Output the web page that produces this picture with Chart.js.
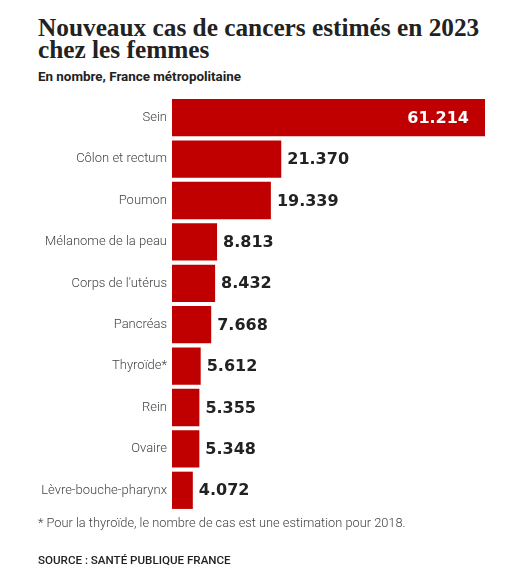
<!DOCTYPE html>
<html>
<head>
<meta charset="utf-8">
<script src="https://cdn.jsdelivr.net/npm/chart.js@4/dist/chart.umd.min.js"></script>
<style>
  html, body { margin: 0; padding: 0; background: #fff; }
  body { width: 528px; height: 569px; position: relative; overflow: hidden; }
  #title { position: absolute; left: 38px; top: 16px; font-family: "Liberation Serif", serif; font-weight: bold; font-size: 25.3px; line-height: 22px; color: #222; }
  #subtitle { position: absolute; left: 38px; top: 69px; font-family: Roboto, sans-serif; font-weight: bold; font-size: 13.4px; color: #222; }
  #note { position: absolute; left: 38px; top: 515px; font-family: Roboto, sans-serif; font-weight: 300; font-size: 12.8px; color: #444; }
  #source { position: absolute; left: 38px; top: 553px; font-family: Roboto, sans-serif; font-weight: 500; font-size: 11.6px; color: #222; }
  #wrap { position: absolute; left: 0; top: 0; width: 528px; height: 569px; }
</style>
</head>
<body>
<div id="title">Nouveaux cas de cancers estimés en 2023<br>chez les femmes</div>
<div id="subtitle">En nombre, France métropolitaine</div>
<div id="wrap"><canvas id="cancerChart"></canvas></div>
<div id="note">* Pour la thyroïde, le nombre de cas est une estimation pour 2018.</div>
<div id="source">SOURCE : SANTÉ PUBLIQUE FRANCE</div>

<script>
const categories = ["Sein", "Côlon et rectum", "Poumon", "Mélanome de la peau", "Corps de l'utérus",
    "Pancréas", "Thyroïde*", "Rein", "Ovaire", "Lèvre-bouche-pharynx"];
const cases = [61214, 21370, 19339, 8813, 8432, 7668, 5612, 5355, 5348, 4072];
const valueLabels = ["61.214", "21.370", "19.339", "8.813", "8.432", "7.668", "5.612", "5.355", "5.348", "4.072"];

// value labels next to (or inside) the bars
const valueLabelPlugin = {
    id: 'valueLabels',
    afterDatasetsDraw(chart) {
        const ctx = chart.ctx;
        const bars = chart.getDatasetMeta(0).data;
        ctx.save();
        ctx.font = 'bold 16px "DejaVu Sans", sans-serif';
        ctx.textBaseline = 'middle';
        bars.forEach((bar, i) => {
            if (i === 0) {
                ctx.fillStyle = '#fff';
                ctx.textAlign = 'right';
                ctx.fillText(valueLabels[i], bar.x - 16, bar.y + 1);
            } else {
                ctx.fillStyle = '#222';
                ctx.textAlign = 'left';
                ctx.fillText(valueLabels[i], bar.x + 6, bar.y + 1);
            }
        });
        ctx.restore();
    }
};

new Chart(document.getElementById('cancerChart'), {
    type: 'bar',
    data: {
        labels: categories,
        datasets: [{
            data: cases,
            backgroundColor: "#c00000",
            barPercentage: 0.9,
            categoryPercentage: 1
        }]
    },
    options: {
        indexAxis: 'y',
        responsive: true,
        maintainAspectRatio: false,
        animation: false,
        layout: { padding: { top: 97, bottom: 58, right: 43, left: 0 } },
        plugins: { legend: { display: false }, tooltip: { enabled: false } },
        scales: {
            x: { display: false, min: 0, max: 61214 },
            y: {
                grid: { display: false, drawTicks: false },
                border: { display: false },
                afterFit: s => { s.width = 172; },
                ticks: {
                    padding: 5,
                    color: '#444',
                    font: { family: 'Roboto', weight: 300, size: 13 }
                }
            }
        }
    },
    plugins: [valueLabelPlugin]
});
</script>
</body>
</html>
